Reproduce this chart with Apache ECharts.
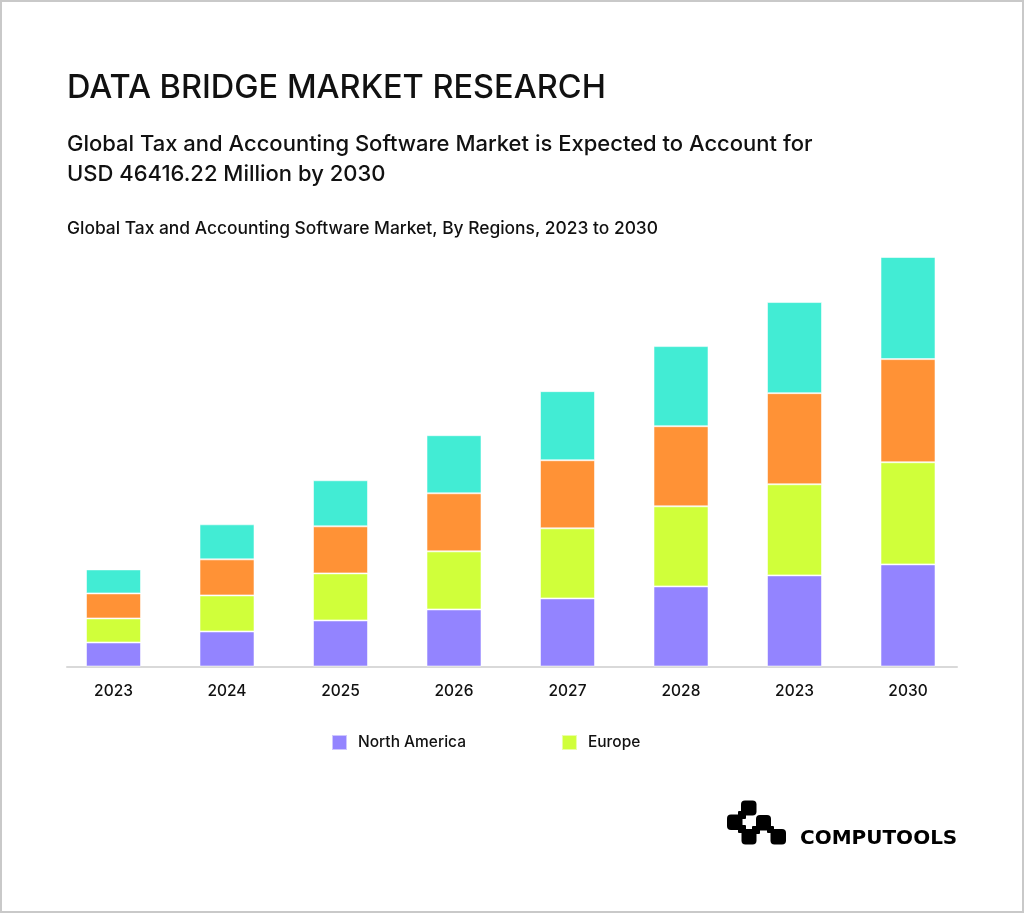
<!DOCTYPE html>
<html>
<head>
<meta charset="utf-8">
<script src="https://cdn.jsdelivr.net/npm/echarts@6/dist/echarts.min.js"></script>
<style>
html,body{margin:0;padding:0;background:#fff;}
#chart{width:1024px;height:913px;}
</style>
</head>
<body>
<div id="chart"></div>
<script>
const categories = ['2023','2024','2025','2026','2027','2028','2023','2030'];
const northAmerica = [24, 35, 46, 57, 68, 80, 91, 102];
const europe       = [24, 36, 47, 58, 70, 80, 91, 102];
const asiaPacific  = [25, 36, 47, 58, 68, 80, 91, 103];
const restOfWorld  = [24, 35, 46, 58, 69, 80, 91, 102];
const legendItems = ['North America', 'Europe'];

const FONT = 'Inter, "Noto Sans", sans-serif';
const chart = echarts.init(document.getElementById('chart'), null, {renderer:'canvas'});

function barSeries(name, data, color){
  return {
    name, type:'bar', stack:'total', data,
    xAxisIndex:0, yAxisIndex:0,
    barWidth:55,
    itemStyle:{color, borderColor:'rgba(255,255,255,0.55)', borderWidth:1},
    emphasis:{disabled:true}
  };
}

chart.setOption({
  backgroundColor:'#fff',
  animation:false,
  title:[
    {text:'DATA BRIDGE MARKET RESEARCH', left:67, top:72, padding:0,
     textStyle:{fontFamily:FONT, fontSize:32.5, fontWeight:500, color:'#111', lineHeight:33}},
    {text:'Global Tax and Accounting Software Market is Expected to Account for\nUSD 46416.22 Million by 2030', left:67, top:129, padding:0,
     textStyle:{fontFamily:FONT, fontSize:22, fontWeight:500, color:'#111', lineHeight:30}},
    {text:'Global Tax and Accounting Software Market, By Regions, 2023 to 2030', left:67, top:219.5, padding:0,
     textStyle:{fontFamily:FONT, fontSize:17.4, fontWeight:500, color:'#111', lineHeight:18}}
  ],
  legend:{
    data:legendItems, left:331, top:734, padding:0, itemWidth:15, itemHeight:15, itemGap:95,
    icon:'rect', selectedMode:false,
    textStyle:{fontFamily:FONT, fontSize:15.5, fontWeight:500, color:'#111', padding:[0,0,0,6]}
  },
  grid:[
    {left:56.75, right:59.25, top:257, bottom:246.5},
    {left:67, right:67, top:257, bottom:246.5}
  ],
  xAxis:[
    {type:'category', data:categories, gridIndex:0,
     axisLine:{show:false}, axisTick:{show:false},
     axisLabel:{margin:17, fontFamily:FONT, fontSize:15.5, fontWeight:500, color:'#111'}},
    {type:'category', data:[''], gridIndex:1,
     axisLine:{show:true, lineStyle:{color:'#d9d9d9', width:2}}, axisTick:{show:false},
     axisLabel:{show:false}}
  ],
  yAxis:[
    {type:'value', min:0, max:409, gridIndex:0, show:false},
    {type:'value', min:0, max:1, gridIndex:1, show:false}
  ],
  series:[
    barSeries('North America', northAmerica, '#9384ff'),
    barSeries('Europe', europe, '#d0ff3a'),
    barSeries('Asia-Pacific', asiaPacific, '#ff9236'),
    barSeries('Middle East and Africa', restOfWorld, '#42ecd4')
  ],
  graphic:[
    {type:'rect', silent:true, z:100, shape:{x:1, y:1, width:1022, height:911},
     style:{fill:'none', stroke:'#c9c9c9', lineWidth:2}},
    {type:'group', silent:true, children:[
      {type:'rect', shape:{x:741, y:800.5, width:15.5, height:15, r:4}, style:{fill:'#000'}},
      {type:'rect', shape:{x:727, y:814.5, width:15.5, height:15.5, r:4}, style:{fill:'#000'}},
      {type:'rect', shape:{x:738, y:811, width:8, height:8, r:1}, style:{fill:'#000'}},
      {type:'rect', shape:{x:756, y:815, width:15, height:15.5, r:4}, style:{fill:'#000'}},
      {type:'rect', shape:{x:741.5, y:829, width:15, height:15.5, r:4}, style:{fill:'#000'}},
      {type:'rect', shape:{x:738, y:825, width:8, height:8, r:1}, style:{fill:'#000'}},
      {type:'rect', shape:{x:752, y:826, width:8, height:8, r:1}, style:{fill:'#000'}},
      {type:'rect', shape:{x:770.5, y:829, width:15.5, height:15.5, r:4}, style:{fill:'#000'}},
      {type:'rect', shape:{x:767, y:826, width:7, height:7, r:1}, style:{fill:'#000'}}
    ]},
    {type:'text', silent:true, left:800, top:829,
     style:{text:'COMPUTOOLS', font:'bold 20px "DejaVu Sans", sans-serif', fill:'#000'}}
  ]
});
</script>
</body>
</html>
